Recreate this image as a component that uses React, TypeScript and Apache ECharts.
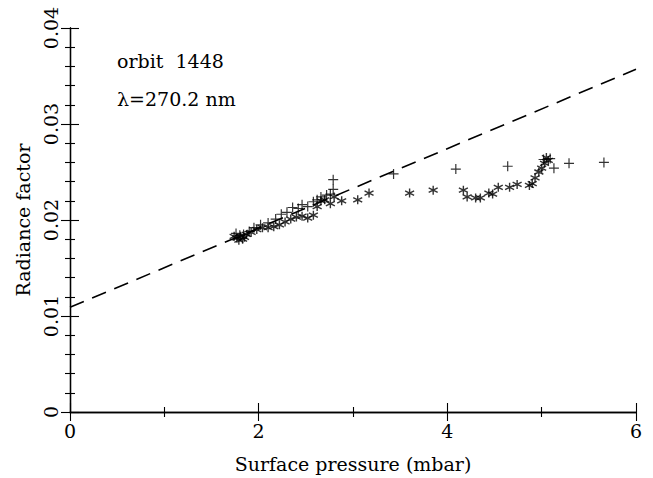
import React, { useEffect, useRef } from "react";
import * as echarts from "echarts";

const plusX = [1.76, 1.8, 1.84, 1.9, 1.95, 2.02, 2.1, 2.18, 2.24, 2.3, 2.36, 2.42, 2.46, 2.52, 2.58, 2.62, 2.66, 2.72, 2.76, 2.79, 2.79, 3.43, 4.09, 4.64, 5.02, 5.09, 5.13, 5.29, 5.66];
const plusY = [0.0186, 0.0184, 0.0185, 0.0188, 0.0192, 0.0195, 0.0197, 0.0201, 0.0206, 0.0208, 0.0213, 0.0212, 0.0216, 0.0214, 0.0219, 0.0221, 0.0224, 0.0226, 0.0227, 0.0242, 0.0232, 0.0248, 0.0253, 0.0256, 0.0263, 0.0264, 0.0254, 0.0259, 0.026];

const starX = [1.74, 1.77, 1.79, 1.81, 1.83, 1.85, 1.87, 1.92, 1.98, 2.04, 2.1, 2.16, 2.22, 2.28, 2.34, 2.4, 2.46, 2.52, 2.58, 2.62, 2.66, 2.7, 2.76, 2.8, 2.88, 3.05, 3.17, 3.6, 3.85, 4.17, 4.21, 4.3, 4.35, 4.44, 4.48, 4.54, 4.66, 4.74, 4.87, 4.9, 4.93, 4.97, 5.0, 5.03, 5.05, 5.07];
const starY = [0.0183, 0.0181, 0.0179, 0.0183, 0.018, 0.0182, 0.0185, 0.0187, 0.019, 0.0192, 0.0192, 0.0193, 0.0195, 0.0198, 0.0201, 0.0203, 0.0204, 0.0202, 0.0205, 0.0214, 0.022, 0.0221, 0.0217, 0.0224, 0.022, 0.0221, 0.0228, 0.0228, 0.0231, 0.0231, 0.0224, 0.0223, 0.0223, 0.0228, 0.0227, 0.0234, 0.0234, 0.0237, 0.0236, 0.0238, 0.0244, 0.025, 0.0254, 0.0259, 0.0265, 0.0262];

const fitX = [0, 6];
const fitY = [0.0109, 0.0357];

const xTicks = ["0", "2", "4", "6"];
const yTicks = ["0", "0.01", "0.02", "0.03", "0.04"];

const FONT = "DejaVu Serif";

export default function App() {
  const ref = useRef<HTMLDivElement>(null);
  useEffect(() => {
    if (!ref.current) return;
    const chart = echarts.init(ref.current, undefined, { renderer: "svg" });
    const axisCommon = {
      axisLine: { show: true, lineStyle: { color: "#000", width: 1.3 } },
      axisTick: { show: true, inside: true, length: 9, lineStyle: { color: "#000", width: 1.1 } },
      minorTick: { show: true, length: 5, lineStyle: { color: "#000", width: 1.1 } },
      splitLine: { show: false },
    };
    const plusSym = "path://M0,-1L0,1M-1,0L1,0";
    const starSym = "path://M0,-1L0,1M-0.87,-0.5L0.87,0.5M-0.87,0.5L0.87,-0.5";
    const textStyle = { color: "#000", fontFamily: FONT, fontSize: 19 };
    chart.setOption({
      animation: false,
      backgroundColor: "#fff",
      grid: { left: 70, right: 17, top: 28, bottom: 65 },
      xAxis: [
        {
          type: "value", min: 0, max: 6, interval: 2, position: "bottom",
          ...axisCommon,
          minorTick: { ...axisCommon.minorTick, splitNumber: 2 },
          axisLabel: {
            margin: 9, ...textStyle,
            formatter: (v: number) => xTicks[Math.round(v / 2)] ?? "",
          },
          name: "Surface pressure (mbar)", nameLocation: "middle", nameGap: 42,
          nameTextStyle: textStyle,
        },
        {
          type: "value", min: 0, max: 6, interval: 2, position: "top",
          ...axisCommon,
          minorTick: { ...axisCommon.minorTick, splitNumber: 2 },
          axisLabel: { show: false },
        },
      ],
      yAxis: [
        {
          type: "value", min: 0, max: 0.04, interval: 0.01, position: "left",
          ...axisCommon,
          minorTick: { ...axisCommon.minorTick, splitNumber: 5 },
          axisLabel: {
            margin: 10, rotate: 90, ...textStyle,
            formatter: (v: number) => yTicks[Math.round(v / 0.01)] ?? "",
          },
          name: "Radiance factor", nameLocation: "middle", nameGap: 38,
          nameTextStyle: textStyle,
        },
        {
          type: "value", min: 0, max: 0.04, interval: 0.01, position: "right",
          ...axisCommon,
          minorTick: { ...axisCommon.minorTick, splitNumber: 5 },
          axisLabel: { show: false },
        },
      ],
      graphic: [
        { type: "text", left: 117, top: 51, style: { text: "orbit  1448", font: `19px "${FONT}"`, fill: "#000" } },
        { type: "text", left: 117, top: 89, style: { text: "λ=270.2 nm", font: `19px "${FONT}"`, fill: "#000" } },
      ],
      series: [
        {
          type: "line",
          data: fitX.map((x, i) => [x, fitY[i]]),
          showSymbol: false, symbol: "none",
          lineStyle: { color: "#000", width: 1.6, type: [15, 9] },
          silent: true,
        },
        {
          type: "scatter",
          data: plusX.map((x, i) => [x, plusY[i]]),
          symbol: plusSym, symbolSize: 10,
          itemStyle: { color: "none", borderColor: "#000", borderWidth: 1.2 },
        },
        {
          type: "scatter",
          data: starX.map((x, i) => [x, starY[i]]),
          symbol: starSym, symbolSize: 9,
          itemStyle: { color: "none", borderColor: "#000", borderWidth: 1.4 },
        },
      ],
    });
    return () => chart.dispose();
  }, []);
  return <div ref={ref} style={{ width: 653, height: 478, position: "absolute", left: 0, top: 0 }} />;
}
